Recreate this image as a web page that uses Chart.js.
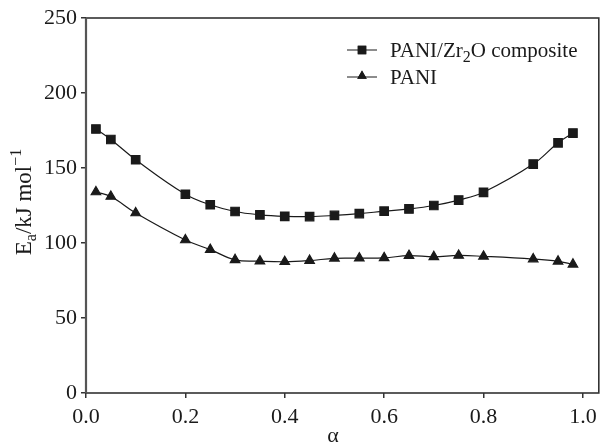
<!DOCTYPE html>
<html>
<head>
<meta charset="utf-8">
<script src="https://cdn.jsdelivr.net/npm/chart.js@4"></script>
<style>
  html, body { margin: 0; padding: 0; background: #fff; }
  #wrap { width: 606px; height: 443px; position: relative; }
</style>
</head>
<body>
<div id="wrap"><canvas id="chart"></canvas></div>
<script>
// conversion degree alpha
const alpha = [0.02, 0.05, 0.1, 0.2, 0.25, 0.3, 0.35, 0.4, 0.45, 0.5, 0.55, 0.6, 0.65, 0.7, 0.75, 0.8, 0.9, 0.95, 0.98];
// activation energy, kJ/mol
const compositeEa = [176, 169, 155.5, 132.5, 125.5, 121, 118.8, 117.8, 117.6, 118.4, 119.6, 121.2, 122.7, 125, 128.6, 133.8, 152.6, 166.8, 173.3];
const paniEa = [134, 131, 120, 102, 95.6, 88.8, 87.9, 87.5, 88.3, 89.8, 89.9, 90.1, 91.6, 90.8, 91.7, 91.1, 89.3, 87.8, 85.8];
const seriesNames = ['PANI/Zr2O composite', 'PANI'];
const xTicks = [0, 0.2, 0.4, 0.6, 0.8, 1.0];
const yTicks = [0, 50, 100, 150, 200, 250];

const FONT = '"Liberation Serif", "Times New Roman", serif';
const INK = '#1a1a1a';

function toPoints(ys) {
    return alpha.map((a, i) => ({ x: a, y: ys[i] }));
}

// box around plot + custom legend + axis titles with sub/superscripts
const decorations = {
    id: 'decorations',
    afterDraw(chart) {
        const ctx = chart.ctx;
        const area = chart.chartArea;
        ctx.save();
        ctx.strokeStyle = '#333';
        ctx.lineWidth = 1.6;
        ctx.strokeRect(area.left, area.top, area.right - area.left, area.bottom - area.top);
        // left spine looks a bit heavier in the original
        ctx.strokeStyle = '#555';
        ctx.lineWidth = 2.2;
        ctx.beginPath();
        ctx.moveTo(area.left, area.top);
        ctx.lineTo(area.left, area.bottom);
        ctx.stroke();

        // legend
        chart.data.datasets.forEach((ds, i) => {
            const y = 50 + i * 27;
            ctx.strokeStyle = INK;
            ctx.lineWidth = 1;
            ctx.beginPath();
            ctx.moveTo(347, y);
            ctx.lineTo(377, y);
            ctx.stroke();
            Chart.helpers.drawPoint(ctx, {
                pointStyle: ds.pointStyle, radius: ds.pointRadius, rotation: 0, borderWidth: 0
            }, 362, i === 1 ? y - 1 : y);
            ctx.fillStyle = INK;
            ctx.fill();
            ctx.textBaseline = 'alphabetic';
            ctx.textAlign = 'left';
            let x = 390;
            const base = y + 7;
            if (i === 0) {
                ctx.font = '21px ' + FONT;
                ctx.fillText('PANI/Zr', x, base);
                x += ctx.measureText('PANI/Zr').width;
                ctx.font = '16px ' + FONT;
                ctx.fillText('2', x, base + 5);
                x += ctx.measureText('2').width;
                ctx.font = '21px ' + FONT;
                ctx.fillText('O composite', x, base);
            } else {
                ctx.font = '21px ' + FONT;
                ctx.fillText(ds.label, x, base);
            }
        });

        // x axis title
        ctx.fillStyle = INK;
        ctx.font = '22px ' + FONT;
        ctx.textAlign = 'center';
        ctx.fillText('α', 333, 442);

        // y axis title: E_a/kJ mol^-1
        const parts = [
            { t: 'E', size: 23, dy: 0 },
            { t: 'a', size: 16, dy: 5 },
            { t: '/kJ mol', size: 23, dy: 0 },
            { t: '\u22121', size: 16, dy: -10 }
        ];
        let total = 0;
        parts.forEach(p => {
            ctx.font = p.size + 'px ' + FONT;
            p.w = ctx.measureText(p.t).width;
            total += p.w;
        });
        ctx.textAlign = 'left';
        ctx.translate(31, 202);
        ctx.rotate(-Math.PI / 2);
        let px = -total / 2;
        parts.forEach(p => {
            ctx.font = p.size + 'px ' + FONT;
            ctx.fillText(p.t, px, p.dy);
            px += p.w;
        });
        ctx.restore();
    }
};

const ctx = document.getElementById('chart').getContext('2d');
new Chart(ctx, {
    type: 'line',
    data: {
        datasets: [{
            label: seriesNames[0],
            data: toPoints(compositeEa),
            borderColor: INK,
            backgroundColor: INK,
            borderWidth: 1.2,
            pointStyle: 'rect',
            pointRadius: 6,
            tension: 0.4
        }, {
            label: seriesNames[1],
            data: toPoints(paniEa),
            borderColor: INK,
            backgroundColor: INK,
            borderWidth: 1.2,
            pointStyle: 'triangle',
            pointRadius: 5.5,
            tension: 0.4
        }]
    },
    options: {
        responsive: true,
        maintainAspectRatio: false,
        animation: false,
        layout: { padding: { top: 18, right: 2, left: 0, bottom: 0 } },
        plugins: {
            legend: { display: false },
            tooltip: { enabled: false }
        },
        scales: {
            x: {
                type: 'linear',
                min: 0,
                max: 1.032,
                afterFit(scale) { scale.height = 50; },
                afterBuildTicks(scale) { scale.ticks = xTicks.map(v => ({ value: v })); },
                ticks: {
                    color: INK,
                    font: { family: FONT, size: 22 },
                    padding: 6,
                    callback: v => v.toFixed(1)
                },
                grid: { display: true, drawOnChartArea: false, tickLength: 5, color: '#333', lineWidth: 1.5 },
                border: { display: false }
            },
            y: {
                min: 0,
                max: 250,
                afterFit(scale) { scale.width = 86; },
                afterBuildTicks(scale) { scale.ticks = yTicks.map(v => ({ value: v })); },
                ticks: {
                    color: INK,
                    font: { family: FONT, size: 22 },
                    padding: 4
                },
                grid: { display: true, drawOnChartArea: false, tickLength: 5, color: '#333', lineWidth: 1.5 },
                border: { display: false }
            }
        }
    },
    plugins: [decorations]
});
</script>
</body>
</html>
